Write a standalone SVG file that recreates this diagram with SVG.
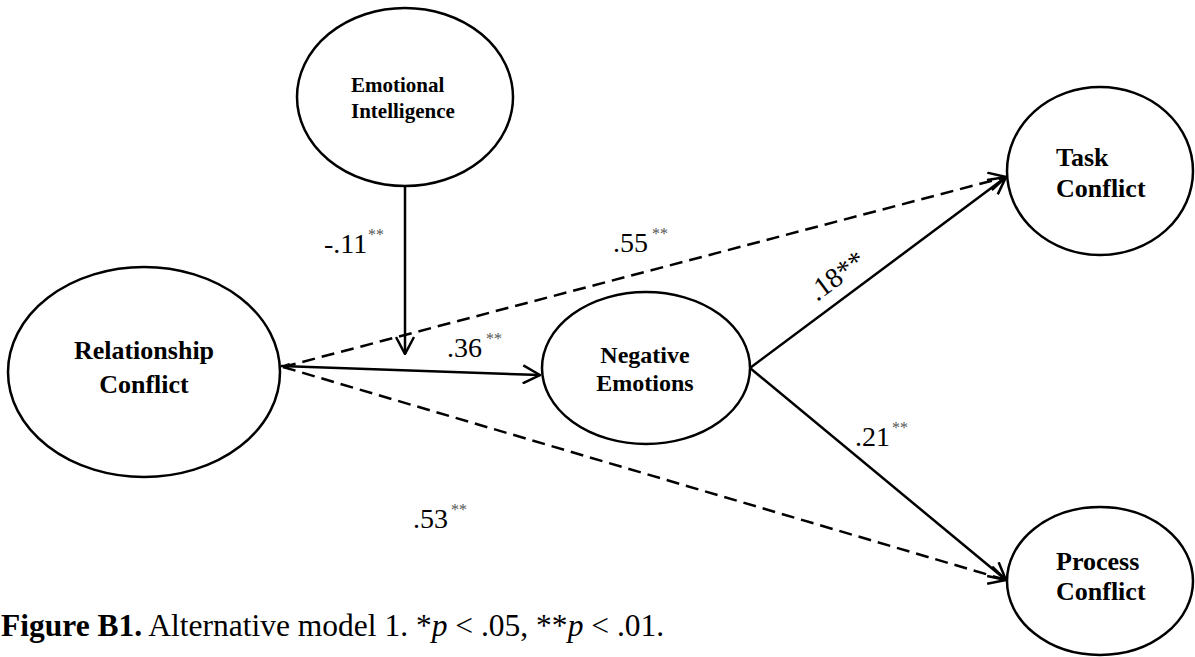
<svg xmlns="http://www.w3.org/2000/svg" width="1195" height="657" viewBox="0 0 1195 657">
<style>
.node{fill:#fff;stroke:#000;stroke-width:2.5}
.nt{font-family:"Liberation Serif","Times New Roman",serif;font-weight:bold;fill:#000}
.ln{stroke:#000;stroke-width:2.5;fill:none}
.dash{stroke-dasharray:13 7}
.lab{font-family:"Liberation Serif","Times New Roman",serif;font-size:28px;fill:#000}
.sup{font-family:"Liberation Serif","Times New Roman",serif;font-size:16px;fill:#555}
.cap{font-family:"Liberation Serif","Times New Roman",serif;font-size:31.5px;fill:#000}
</style>
<defs>
<marker id="open" viewBox="0 0 20 20" refX="19" refY="10" markerWidth="20" markerHeight="20" markerUnits="userSpaceOnUse" orient="auto">
<path d="M2,1 L19,10 L2,19" fill="none" stroke="#000" stroke-width="2.5"/>
</marker>
<marker id="small" viewBox="0 0 9 7" refX="8.5" refY="3.5" markerWidth="9" markerHeight="7" markerUnits="userSpaceOnUse" orient="auto-start-reverse">
<path d="M0,0 L9,3.5 L0,7 z" fill="#000"/>
</marker>
</defs>
<g id="connectors">
<line class="ln" x1="405" y1="186" x2="405" y2="354" marker-end="url(#open)"/>
<line class="ln" x1="281" y1="366" x2="540" y2="375" marker-start="url(#small)" marker-end="url(#open)"/>
<line class="ln dash" x1="283" y1="367" x2="1006" y2="177" marker-end="url(#open)"/>
<line class="ln dash" x1="283" y1="367" x2="1006" y2="580" marker-end="url(#open)"/>
<line class="ln" x1="750" y1="368" x2="1006" y2="177" marker-end="url(#open)"/>
<line class="ln" x1="750" y1="368" x2="1006" y2="580" marker-end="url(#open)"/>
</g>
<g id="labels">
<text class="lab" x="324" y="253">-.11</text><text class="sup" x="368" y="240">**</text>
<text class="lab" x="613" y="252">.55</text><text class="sup" x="652" y="239">**</text>
<text class="lab" x="447" y="357">.36</text><text class="sup" x="486" y="344">**</text>
<text class="lab" transform="translate(817,302) rotate(-36.6)">.18**</text>
<text class="lab" x="855" y="446">.21</text><text class="sup" x="892" y="433">**</text>
<text class="lab" x="413" y="528">.53</text><text class="sup" x="451" y="515">**</text>
</g>
<g id="emotional-intelligence">
<ellipse class="node" cx="405" cy="97" rx="108" ry="89"/>
<text class="nt" font-size="21" x="351" y="92">Emotional</text>
<text class="nt" font-size="21" x="351" y="118">Intelligence</text>
</g>
<g id="relationship-conflict">
<ellipse class="node" cx="144" cy="372" rx="136" ry="105"/>
<text class="nt" font-size="26" x="144" y="359" text-anchor="middle">Relationship</text>
<text class="nt" font-size="26" x="144" y="393" text-anchor="middle">Conflict</text>
</g>
<g id="negative-emotions">
<ellipse class="node" cx="646" cy="368" rx="104" ry="76"/>
<text class="nt" font-size="24" x="645" y="363" text-anchor="middle">Negative</text>
<text class="nt" font-size="24" x="645" y="391" text-anchor="middle">Emotions</text>
</g>
<g id="task-conflict">
<ellipse class="node" cx="1100" cy="171" rx="93" ry="84"/>
<text class="nt" font-size="26" x="1056" y="166">Task</text>
<text class="nt" font-size="26" x="1056" y="197">Conflict</text>
</g>
<g id="process-conflict">
<ellipse class="node" cx="1100" cy="581" rx="93" ry="74"/>
<text class="nt" font-size="26" x="1056" y="570">Process</text>
<text class="nt" font-size="26" x="1056" y="600">Conflict</text>
</g>
<g id="caption">
<text class="cap" x="1" y="636"><tspan font-weight="bold">Figure B1.</tspan> Alternative model 1. *<tspan font-style="italic">p</tspan> &lt; .05, **<tspan font-style="italic">p</tspan> &lt; .01.</text>
</g>
</svg>
